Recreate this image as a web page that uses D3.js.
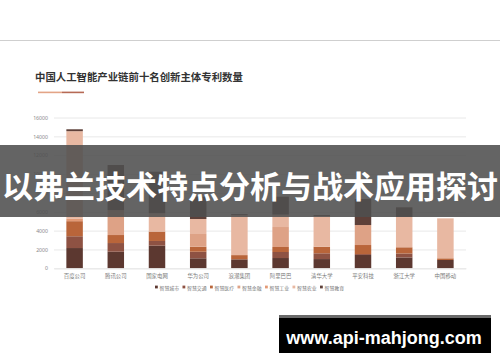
<!DOCTYPE html>
<html>
<head>
<meta charset="utf-8">
<script src="https://cdn.jsdelivr.net/npm/d3@7"></script>
<style>
  html, body { margin: 0; padding: 0; background: #fff; }
  svg { display: block; }
</style>
</head>
<body>
<svg id="chart" width="500" height="362"></svg>
<script>
// chart data
var companies = ["百度公司", "腾讯公司", "国家电网", "华为公司", "浪潮集团", "阿里巴巴", "清华大学", "平安科技", "浙江大学", "中国移动"];
var seriesNames = ["智慧城市", "智慧交通", "智慧医疗", "智慧金融", "智慧工业", "智慧农业", "智慧教育"];
var cityVals      = [2150, 1760, 2400, 1060, 950, 1090, 980, 1410, 1150, 880];
var trafficVals   = [1250, 920, 500, 700, 0, 640, 610, 100, 420, 0];
var medicalVals   = [1600, 850, 1000, 530, 450, 530, 700, 960, 660, 180];
var financeVals   = [0, 2650, 0, 1350, 0, 2120, 0, 2120, 0, 0];
var industryVals  = [250, 0, 0, 0, 0, 0, 0, 0, 0, 0];
var farmVals      = [9300, 0, 1950, 1590, 4250, 1320, 3260, 0, 3220, 4240];
var eduVals       = [200, 4780, 4400, 2370, 100, 1900, 100, 2760, 1020, 0];
var yTicks = [0, 2000, 4000, 6000, 8000, 10000, 12000, 14000, 16000];

var colors = ["#5c3830", "#8e5243", "#b9653a", "#dea286", "#e39a76", "#e8b8a2", "#5e4039"];

var table = companies.map(function(c, i) {
  return {
    company: c,
    "智慧城市": cityVals[i], "智慧交通": trafficVals[i], "智慧医疗": medicalVals[i],
    "智慧金融": financeVals[i], "智慧工业": industryVals[i], "智慧农业": farmVals[i],
    "智慧教育": eduVals[i]
  };
});

var svg = d3.select("#chart");

// top rule
svg.append("line")
  .attr("x1", 0).attr("x2", 500).attr("y1", 40.5).attr("y2", 40.5)
  .attr("stroke", "#cfcfcf").attr("stroke-width", 1);

// title + accent
svg.append("text")
  .attr("x", 35).attr("y", 80.5)
  .attr("font-family", "Noto Sans CJK SC")
  .attr("font-weight", "bold")
  .attr("font-size", 10.4)
  .attr("fill", "#333")
  .text("中国人工智能产业链前十名创新主体专利数量");
svg.append("rect").attr("x", 38).attr("y", 91.6).attr("width", 24).attr("height", 1.6).attr("fill", "#e3a486");
svg.append("rect").attr("x", 62).attr("y", 91.6).attr("width", 22).attr("height", 1.6).attr("fill", "#b66a55");

var x = d3.scaleBand().domain(companies).range([54, 466]).paddingInner(0.6).paddingOuter(0.3);
var y = d3.scaleLinear().domain([0, 16000]).range([268.3, 117.5]);

// grid + y labels
svg.append("g")
  .attr("transform", "translate(54,0)")
  .call(d3.axisLeft(y).tickValues(yTicks).tickSize(-412).tickPadding(6).tickFormat(d3.format("d")))
  .call(function(g) { g.select(".domain").remove(); })
  .call(function(g) {
    g.selectAll(".tick line").attr("stroke", "#e8e8e8");
    g.selectAll(".tick text").attr("fill", "#8a8a8a").attr("font-size", 5.2).attr("font-family", "Noto Sans");
  });

// stacked bars
var stack = d3.stack().keys(seriesNames);
var layers = stack(table);

svg.append("g").selectAll("g")
  .data(layers)
  .join("g")
    .attr("fill", function(d, i) { return colors[i]; })
  .selectAll("rect")
  .data(function(d) { return d; })
  .join("rect")
    .attr("x", function(d) { return x(d.data.company); })
    .attr("y", function(d) { return y(d[1]); })
    .attr("width", x.bandwidth())
    .attr("height", function(d) { return y(d[0]) - y(d[1]); });

// x labels
svg.append("g")
  .attr("transform", "translate(0,268.3)")
  .call(d3.axisBottom(x).tickSize(0).tickPadding(6))
  .call(function(g) { g.select(".domain").attr("stroke", "#e8e8e8"); })
  .call(function(g) {
    g.selectAll(".tick text").attr("fill", "#7a7a7a").attr("font-size", 5.4).attr("font-family", "Noto Sans CJK SC");
  });

// legend
var legend = svg.append("g").selectAll("g")
  .data(seriesNames)
  .join("g")
    .attr("transform", function(d, i) { return "translate(" + (155 + i * 27.5) + ",288)"; });
legend.append("rect")
  .attr("x", 0).attr("y", -2.4).attr("width", 2.8).attr("height", 2.8)
  .attr("fill", function(d, i) { return colors[i]; });
legend.append("text")
  .attr("x", 4.5).attr("y", 1.8)
  .attr("font-size", 4.9).attr("fill", "#777")
  .attr("font-family", "Noto Sans CJK SC")
  .text(function(d) { return d; });

// overlay banner
svg.append("rect")
  .attr("x", 0).attr("y", 145).attr("width", 500).attr("height", 72)
  .attr("fill", "rgba(78,78,78,0.88)");
svg.append("text")
  .attr("x", 250).attr("y", 198)
  .attr("text-anchor", "middle")
  .attr("font-family", "Noto Sans CJK SC")
  .attr("font-weight", "bold")
  .attr("font-size", 31)
  .attr("fill", "#fff")
  .text("以弗兰技术特点分析与战术应用探讨");

// watermark
svg.append("rect").attr("x", 279).attr("y", 315).attr("width", 212).attr("height", 3).attr("fill", "#6a6a6a");
svg.append("rect").attr("x", 279).attr("y", 318).attr("width", 212).attr("height", 35).attr("fill", "#000");
svg.append("text")
  .attr("x", 384).attr("y", 344)
  .attr("text-anchor", "middle")
  .attr("font-family", "Liberation Sans")
  .attr("font-weight", "bold")
  .attr("font-size", 18)
  .attr("fill", "#fff")
  .text("www.api-mahjong.com");
</script>
</body>
</html>
